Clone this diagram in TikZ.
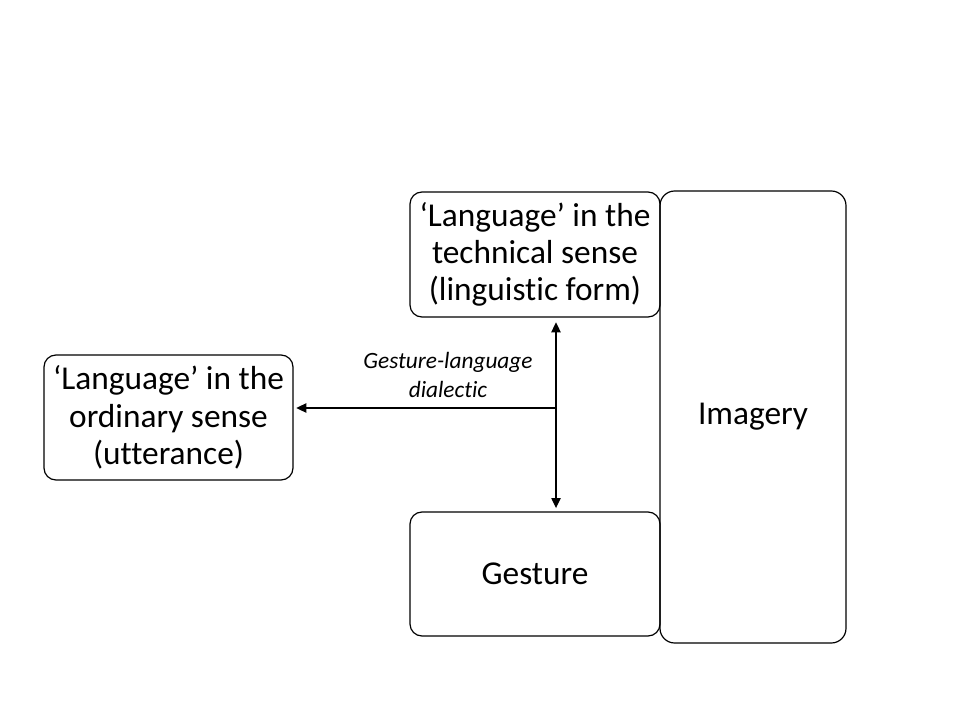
\documentclass[tikz,border=0pt]{standalone}
\usepackage{fontspec}
\setmainfont[Ligatures=NoCommon]{Carlito}
\usetikzlibrary{arrows.meta}
\begin{document}
\begin{tikzpicture}[x=0.75pt,y=-0.75pt,
  box/.style={draw, line width=0.9pt, rounded corners=9pt, inner sep=0pt, align=center,
    font=\fontsize{25}{28}\selectfont},
  conn/.style={line width=0.9pt, -{Triangle[length=7.5pt,width=7pt]}},
  lbl/.style={font=\fontsize{17.5}{22}\selectfont\itshape, align=center}]
\useasboundingbox (0,0) rectangle (960,720);
\node[box, minimum width=186*0.75pt, minimum height=452*0.75pt, rounded corners=11pt] (img) at (753,417) {Imagery};
\node[box, minimum width=250*0.75pt, minimum height=125*0.75pt] (lang) at (535,254.5) {‘Language’ in the\\technical sense\\(linguistic form)};
\node[box, minimum width=250*0.75pt, minimum height=124*0.75pt] (gest) at (535,574) {Gesture};
\node[box, minimum width=249*0.75pt, minimum height=125*0.75pt] (ord) at (168.5,417.5) {‘Language’ in the\\ordinary sense\\(utterance)};
\coordinate (vx) at (556,408);
\draw[conn, {Triangle[length=7.5pt,width=7pt]}-{Triangle[length=7.5pt,width=7pt]}, shorten <=3.5pt, shorten >=2.5pt] (lang.south -| vx) -- (gest.north -| vx);
\draw[conn, shorten >=2pt] (vx) -- (ord.east |- vx);
\node[lbl] (dial) at (448,375) {Gesture-language\\dialectic};
\end{tikzpicture}
\end{document}
